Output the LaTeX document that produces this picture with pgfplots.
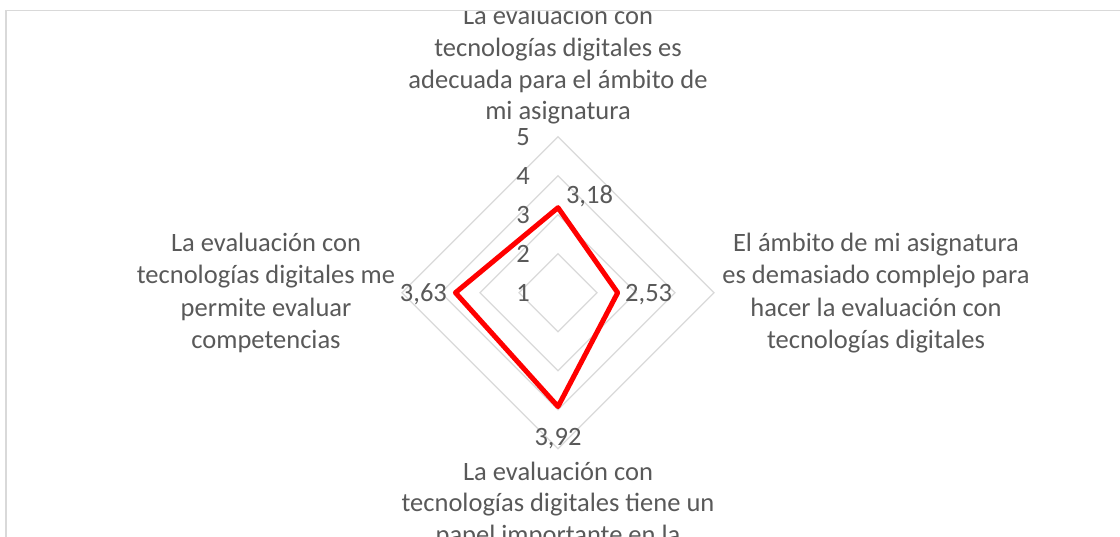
\documentclass[border=0pt]{standalone}
\usepackage{pgfplots}
\pgfplotsset{compat=1.18}
\usepackage{pgfplotstable}
\usepackage{fontspec}
\setmainfont{Carlito}
\definecolor{txt}{HTML}{595959}
\definecolor{gridc}{HTML}{D9D9D9}
\newcommand{\lblfont}{\fontsize{26.5bp}{32bp}\selectfont}

% angle (deg), value, label offsets (bp)
\pgfplotstableread{
ang val dx dy
90 3.18 31.5 4
0 2.53 31 -9
-90 3.92 0 -39
180 3.63 -32 -9
}\radar

\newcommand{\cat}[3]{\node[anchor=base, text=txt, font=\lblfont, inner sep=0pt] at (axis cs:{(#1-558)/39},{(292.7-#2)/39}) {#3};}

\begin{document}
\begin{tikzpicture}
\useasboundingbox (0,0) rectangle (1120bp,537bp);
\begin{scope}
\clip (0,0) rectangle (1120bp,526bp);
\begin{axis}[
  at={(0,0)}, anchor=south west,
  scale only axis, width=1120bp, height=537bp,
  xmin=-14.3077, xmax=14.4103, ymin=-6.2641, ymax=7.5051,
  hide axis, clip=false,
]
% grid rings (values 2..5; centre = 1)
\addplot[gridc, line width=1.3bp, line join=miter] coordinates {(1,0) (0,1) (-1,0) (0,-1)} -- cycle;
\addplot[gridc, line width=1.3bp, line join=miter] coordinates {(2,0) (0,2) (-2,0) (0,-2)} -- cycle;
\addplot[gridc, line width=1.3bp, line join=miter] coordinates {(3,0) (0,3) (-3,0) (0,-3)} -- cycle;
\addplot[gridc, line width=1.3bp, line join=miter] coordinates {(4,0) (0,4) (-4,0) (0,-4)} -- cycle;

% radial tick labels
\node[anchor=base east, text=txt, font=\lblfont, inner sep=0pt, xshift=-28bp, yshift=-9bp] at (axis cs:0,0) {1};
\node[anchor=base east, text=txt, font=\lblfont, inner sep=0pt, xshift=-28bp, yshift=-9bp] at (axis cs:0,1) {2};
\node[anchor=base east, text=txt, font=\lblfont, inner sep=0pt, xshift=-28bp, yshift=-9bp] at (axis cs:0,2) {3};
\node[anchor=base east, text=txt, font=\lblfont, inner sep=0pt, xshift=-28bp, yshift=-9bp] at (axis cs:0,3) {4};
\node[anchor=base east, text=txt, font=\lblfont, inner sep=0pt, xshift=-28bp, yshift=-9bp] at (axis cs:0,4) {5};

% data series
\addplot[red, line width=5bp, line join=round,
  point meta=explicit,
  visualization depends on={\thisrow{dx} \as \ldx},
  visualization depends on={\thisrow{dy} \as \ldy},
  nodes near coords={\pgfmathprintnumber[fixed, fixed zerofill, precision=2, use comma, assume math mode=true]{\pgfplotspointmeta}},
  every node near coord/.append style={anchor=base, text=txt, font=\lblfont, inner sep=0pt, xshift=\ldx bp, yshift=\ldy bp},
] table[x expr={(\thisrow{val}-1)*cos(\thisrow{ang})}, y expr={(\thisrow{val}-1)*sin(\thisrow{ang})}, meta=val] {\radar} -- cycle;

% category labels
\cat{558}{24.5}{La evaluación con}
\cat{558}{56.5}{tecnologías digitales es}
\cat{558}{88.5}{adecuada para el ámbito de}
\cat{558}{120}{mi asignatura}

\cat{876}{251.7}{El ámbito de mi asignatura}
\cat{876}{284}{es demasiado complejo para}
\cat{876}{316.3}{hacer la evaluación con}
\cat{876}{348.5}{tecnologías digitales}

\cat{266}{251.7}{La evaluación con}
\cat{266}{284}{tecnologías digitales me}
\cat{266}{316.3}{permite evaluar}
\cat{266}{348.5}{competencias}

\cat{558}{480}{La evaluación con}
\cat{558}{512}{tecnologías digitales tiene un}
\cat{558}{544}{papel importante en la}
\end{axis}
\end{scope}
% chart frame
\draw[gridc, line width=1bp] (6bp,526bp) -- (1120bp,526bp);
\draw[gridc, line width=2bp] (6bp,0bp) -- (6bp,526.5bp);
\end{tikzpicture}
\end{document}
